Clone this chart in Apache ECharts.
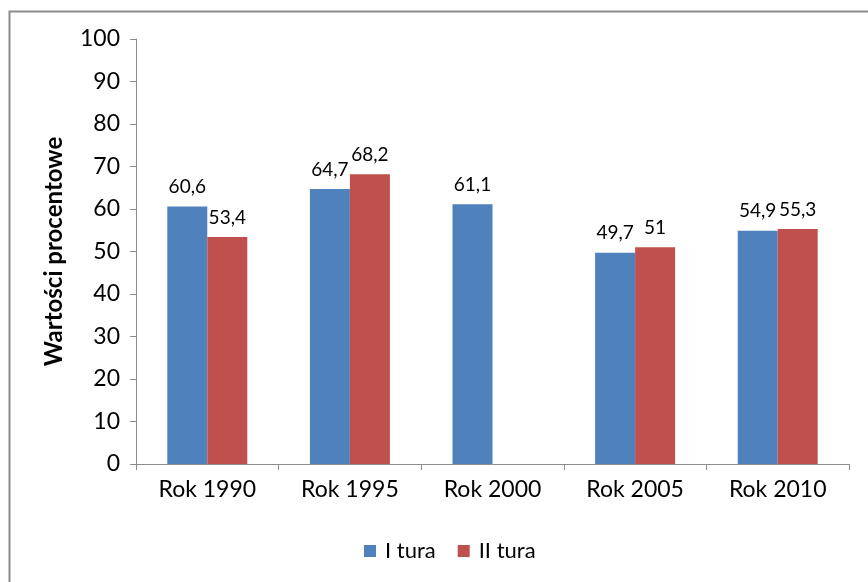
<!DOCTYPE html>
<html>
<head>
<meta charset="utf-8">
<script src="https://cdn.jsdelivr.net/npm/echarts@6/dist/echarts.min.js"></script>
<style>
  html, body { margin: 0; padding: 0; background: #fff; }
  #chart { width: 868px; height: 582px; }
</style>
</head>
<body>
<div id="chart"></div>
<script>
    var categories = ['Rok 1990', 'Rok 1995', 'Rok 2000', 'Rok 2005', 'Rok 2010'];
    var tura1 = [60.6, 64.7, 61.1, 49.7, 54.9];
    var tura2 = [53.4, 68.2, null, 51, 55.3];
    var seriesNames = ['I tura', 'II tura'];

    var font = 'Lato, "Open Sans", sans-serif';

    var myChart = echarts.init(document.getElementById('chart'));

    // etykieta z przecinkiem zamiast kropki
    function fmt(p) {
        return String(p.value).replace('.', ',');
    }

    var option = {
        animation: false,
        textStyle: { fontFamily: font },
        graphic: [{
            type: 'rect',
            shape: { x: 9.5, y: 11.5, width: 900, height: 620 },
            style: { fill: 'none', stroke: '#8c8c8c', lineWidth: 2 },
            silent: true
        }],
        grid: { left: 136, right: 19, top: 39, bottom: 118 },
        legend: {
            top: 535,
            left: 359,
            itemWidth: 12,
            itemHeight: 12,
            itemGap: 22,
            icon: 'rect',
            textStyle: { fontSize: 22, color: '#000', fontFamily: font, padding: [0, 0, 0, 4] },
            data: seriesNames
        },
        xAxis: {
            type: 'category',
            data: categories,
            axisLine: { lineStyle: { color: '#8c8c8c', width: 1 } },
            axisTick: { show: true, length: 6, lineStyle: { color: '#8c8c8c' } },
            axisLabel: { fontSize: 23, color: '#000', margin: 14, fontFamily: font }
        },
        yAxis: {
            type: 'value',
            min: 0,
            max: 100,
            interval: 10,
            name: 'Wartości procentowe',
            nameLocation: 'middle',
            nameGap: 70,
            nameTextStyle: { fontSize: 24, fontWeight: 'bold', color: '#000', fontFamily: font },
            splitLine: { show: false },
            axisLine: { show: true, lineStyle: { color: '#8c8c8c' } },
            axisTick: { show: true, length: 6, lineStyle: { color: '#8c8c8c' } },
            axisLabel: { fontSize: 23, color: '#000', margin: 16, fontFamily: font }
        },
        series: [{
            name: seriesNames[0],
            type: 'bar',
            data: tura1,
            barWidth: 40,
            barGap: '0%',
            itemStyle: { color: '#4F81BD' },
            label: { show: true, position: 'top', distance: 10, fontSize: 19, color: '#000', formatter: fmt }
        }, {
            name: seriesNames[1],
            type: 'bar',
            data: tura2,
            barWidth: 40,
            barGap: '0%',
            itemStyle: { color: '#C0504D' },
            label: { show: true, position: 'top', distance: 10, fontSize: 19, color: '#000', formatter: fmt }
        }]
    };
    myChart.setOption(option, true);
</script>
</body>
</html>
